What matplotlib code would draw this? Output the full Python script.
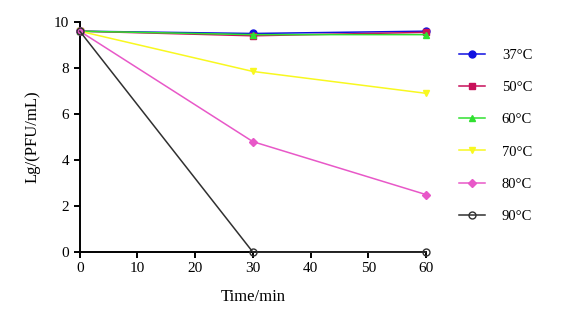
import matplotlib.pyplot as plt

plt.rcParams.update(
    {
        "font.family": ["Liberation Serif", "DejaVu Serif"],
        "font.size": 11,
        "axes.linewidth": 1.4,
        "xtick.major.width": 1.4,
        "ytick.major.width": 1.4,
    }
)

times = [0, 30, 60]
temps = ["37°C", "50°C", "60°C", "70°C", "80°C", "90°C"]
lg_37 = [9.6, 9.5, 9.6]
lg_50 = [9.6, 9.4, 9.55]
lg_60 = [9.6, 9.45, 9.45]
lg_70 = [9.6, 7.85, 6.9]
lg_80 = [9.6, 4.8, 2.5]
lg_90 = [9.6, 0.0, 0.0]

series = [lg_37, lg_50, lg_60, lg_70, lg_80, lg_90]
colors = ["#1010e0", "#c8105a", "#30e030", "#f8f820", "#e858c8", "#303030"]
markers = ["o", "s", "^", "v", "D", "o"]

fig = plt.figure(figsize=(5.74, 3.33), dpi=100)
ax = fig.add_axes([0.139, 0.243, 0.603, 0.691])

for name, vals, c, m in zip(temps, series, colors, markers):
    face = "none" if name == "90°C" else c
    ms = 5 if m != "D" else 4.5
    ax.plot(times, vals, color=c, marker=m, markersize=ms, markerfacecolor=face,
            markeredgecolor=c, linewidth=1.1, label=name, clip_on=False, zorder=3)

ax.set_xlim(0, 60)
ax.set_ylim(0, 10)
ax.set_xticks(range(0, 61, 10))
ax.set_yticks(range(0, 11, 2))
ax.spines["top"].set_visible(False)
ax.spines["right"].set_visible(False)
ax.tick_params(direction="out", length=4, labelsize=11)

ax.set_xlabel("Time/min", fontsize=12, labelpad=10)
ax.set_ylabel("Lg/(PFU/mL)", fontsize=12, labelpad=10)

ax.legend(loc="center left", bbox_to_anchor=(1.057, 0.505), frameon=False,
          handlelength=1.8, handletextpad=1.15, labelspacing=1.3, fontsize=10.5)

fig.savefig("out.png", dpi=100, facecolor="white")
